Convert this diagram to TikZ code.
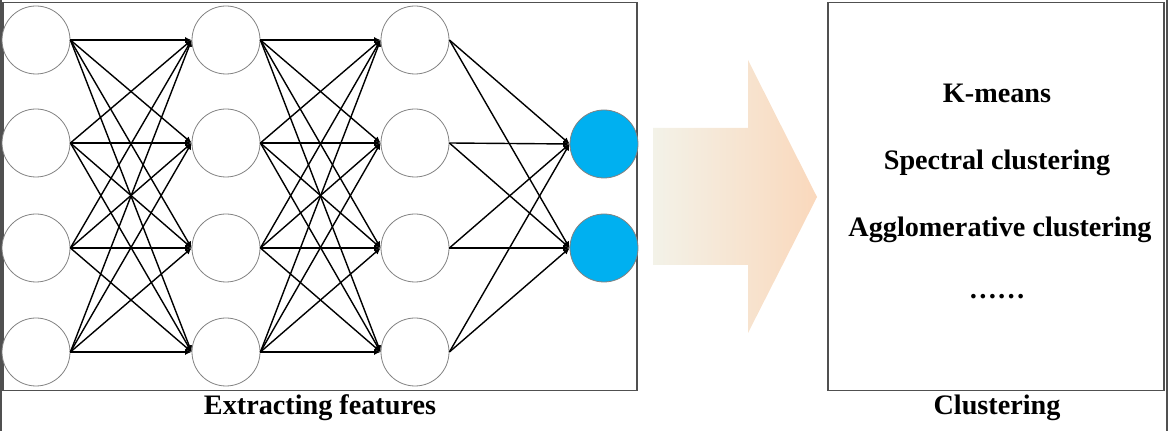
\documentclass[tikz,border=0pt]{standalone}
\usepackage{fontspec}
\setmainfont{Liberation Serif}
\usetikzlibrary{arrows.meta}
\definecolor{boxgray}{RGB}{80,80,80}
\definecolor{ringgray}{RGB}{130,130,130}
\definecolor{neuroblue}{RGB}{0,176,240}
\definecolor{arrowleft}{RGB}{243,242,232}
\definecolor{arrowright}{RGB}{250,216,188}
\begin{document}
\begin{tikzpicture}[x=0.5pt,y=-0.5pt,
  neuron/.style={circle,draw=ringgray,line width=0.4pt,minimum size=34pt,inner sep=0pt,fill=white},
  outneuron/.style={neuron,fill=neuroblue},
  link/.style={line width=0.7pt,black,-{Latex[length=3.2pt,width=3pt]}},
  frame/.style={draw=boxgray,line width=0.9pt},
  lbl/.style={font=\fontsize{14.1}{17}\selectfont\bfseries,inner sep=0pt}]
\useasboundingbox (0,0) rectangle (1168,431);
% outer lines
\draw[boxgray,line width=1pt] (1,0) -- (1,431);
\draw[boxgray,line width=1pt] (1166.5,0) -- (1166.5,431);
% boxes
\node[frame,minimum width=317pt,minimum height=194pt,inner sep=0pt] (leftbox) at (320,196.5) {};
\node[frame,minimum width=168pt,minimum height=194pt,inner sep=0pt] (rightbox) at (996,196.5) {};
% neurons
\foreach \r/\y in {1/40,2/143,3/248,4/352}{
  \node[neuron] (a\r) at (36,\y) {};
  \node[neuron] (b\r) at (226,\y) {};
  \node[neuron] (c\r) at (415,\y) {};
}
\node[outneuron] (d1) at (604,144) {};
\node[outneuron] (d2) at (604,248) {};
% links
\foreach \i in {1,...,4}{
  \foreach \j in {1,...,4}{
    \draw[link] (a\i.east) -- (b\j.west);
    \draw[link] (b\i.east) -- (c\j.west);
  }
  \foreach \j in {1,2}{
    \draw[link] (c\i.east) -- (d\j.west);
  }
}
% big arrow
\shade[left color=arrowleft,right color=arrowright]
  (653,128) -- (748,128) -- (748,60) -- (817,197) -- (748,333) -- (748,265) -- (653,265) -- cycle;
% texts
\node[lbl] (t1) at (997,93) {K-means};
\node[lbl] (t2) at (997,163) {Spectral clustering};
\node[lbl] (t3) at (1000,230) {Agglomerative clustering};
\node[lbl] (t4) at (997,297) {……};
\node[lbl] (capl) at (320,408) {Extracting features};
\node[lbl] (capr) at (997,408) {Clustering};
\end{tikzpicture}
\end{document}
